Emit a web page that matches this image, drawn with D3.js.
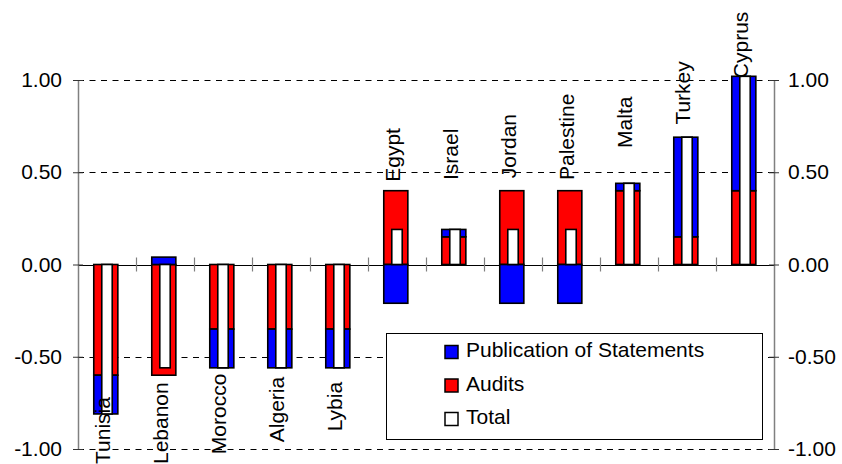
<!DOCTYPE html>
<html>
<head>
<meta charset="utf-8">
<script src="https://cdn.jsdelivr.net/npm/d3@7"></script>
<style>
  html, body { margin: 0; padding: 0; background: #fff; }
  svg { display: block; font-family: "Liberation Sans", Arial, sans-serif; }
</style>
</head>
<body>
<script>
// ---- data ----
const categories = ["Tunisia", "Lebanon", "Morocco", "Algeria", "Lybia", "Egypt",
                    "Israel", "Jordan", "Palestine", "Malta", "Turkey", "Cyprus"];
const audits      = [-0.60, -0.60, -0.35, -0.35, -0.35, 0.40, 0.15, 0.40, 0.40, 0.40, 0.15, 0.40];
const publication = [-0.21,  0.04, -0.21, -0.21, -0.21, -0.21, 0.04, -0.21, -0.21, 0.04, 0.54, 0.62];
const total       = [-0.81, -0.56, -0.56, -0.56, -0.56, 0.19, 0.19, 0.19, 0.19, 0.44, 0.69, 1.02];
const yTicks = [-1, -0.5, 0, 0.5, 1];
const seriesNames = ["Publication of Statements", "Audits", "Total"];

// ---- layout ----
const W = 842, H = 464;
const FONT = 21;
// value-axis level at which each category name is centred
const labelLevels = [-0.90, -0.86, -0.81, -0.786, -0.77, 0.594, 0.597, 0.642, 0.692, 0.771, 0.93, 1.19];

const colors = { audits: "#FF0000", publication: "#0000FF", total: "#FFFFFF" };

const svg = d3.select("body").append("svg").attr("width", W).attr("height", H);
svg.append("rect").attr("width", W).attr("height", H).attr("fill", "#fff");

const x = d3.scaleBand().domain(categories).range([78, 774]);
const y = d3.scaleLinear().domain([-1, 1]).range([449, 80]);
const bw = x.bandwidth();
const outerW = bw * 0.415;
const innerW = bw * 0.18;
const outerShift = -1.2;

// dashed gridlines
svg.append("g").selectAll("line")
  .data(yTicks.filter(d => d !== 0))
  .join("line")
  .attr("x1", x.range()[0]).attr("x2", x.range()[1])
  .attr("y1", d => Math.round(y(d)) + 0.5).attr("y2", d => Math.round(y(d)) + 0.5)
  .attr("stroke", "#000").attr("stroke-width", 1)
  .attr("stroke-dasharray", "6,5.5");

// zero line
svg.append("line")
  .attr("x1", x.range()[0]).attr("x2", x.range()[1])
  .attr("y1", Math.round(y(0)) + 0.5).attr("y2", Math.round(y(0)) + 0.5)
  .attr("stroke", "#000").attr("stroke-width", 1.2);

// category tick marks on the zero line
svg.append("g").selectAll("line")
  .data(categories.slice(1))
  .join("line")
  .attr("x1", d => Math.round(x(d)) + 0.5).attr("x2", d => Math.round(x(d)) + 0.5)
  .attr("y1", y(0) - 7).attr("y2", y(0) + 7)
  .attr("stroke", "#808080").attr("stroke-width", 1.2);

// stacked segments
const rows = categories.map((c, i) => ({ cat: c, audits: audits[i], publication: publication[i] }));
const stacked = d3.stack().keys(["audits", "publication"]).offset(d3.stackOffsetDiverging)(rows);

svg.append("g").selectAll("g")
  .data(stacked)
  .join("g")
  .attr("fill", s => colors[s.key])
  .selectAll("rect")
  .data(s => s)
  .join("rect")
  .attr("x", d => x(d.data.cat) + (bw - outerW) / 2 + outerShift)
  .attr("width", outerW)
  .attr("y", d => y(Math.max(d[0], d[1])))
  .attr("height", d => Math.abs(y(d[0]) - y(d[1])))
  .attr("stroke", "#000").attr("stroke-width", 1.6);

// total bars
svg.append("g").selectAll("rect")
  .data(categories.map((c, i) => ({ cat: c, v: total[i] })))
  .join("rect")
  .attr("x", d => x(d.cat) + (bw - innerW) / 2)
  .attr("width", innerW)
  .attr("y", d => y(Math.max(0, d.v)))
  .attr("height", d => Math.abs(y(d.v) - y(0)))
  .attr("fill", colors.total)
  .attr("stroke", "#000").attr("stroke-width", 1.6);

// value axes, left and right
const fmt = d => d.toFixed(2);
function styleAxis(g, sign) {
  g.select(".domain").attr("stroke", "#808080").attr("stroke-width", 1.5);
  g.selectAll(".tick line").attr("stroke", "#333").attr("x1", sign * 5);
  g.selectAll(".tick text").attr("fill", "#000").style("font-size", FONT + "px")
    .style("font-family", "'Liberation Sans', Arial, sans-serif");
}
svg.append("g")
  .attr("transform", `translate(${x.range()[0]},0)`)
  .call(d3.axisLeft(y).tickValues(yTicks).tickFormat(fmt).tickSizeInner(5).tickSizeOuter(0).tickPadding(11))
  .call(g => styleAxis(g, 1));
svg.append("g")
  .attr("transform", `translate(${x.range()[1]},0)`)
  .call(d3.axisRight(y).tickValues(yTicks).tickFormat(fmt).tickSizeInner(5).tickSizeOuter(0).tickPadding(9))
  .call(g => styleAxis(g, -1));

// legend
const lg = svg.append("g");
lg.append("rect")
  .attr("x", 386.5).attr("y", 333.5).attr("width", 376).attr("height", 106)
  .attr("fill", "#fff").attr("stroke", "#000").attr("stroke-width", 1);
const legendColors = [colors.publication, colors.audits, colors.total];
const item = lg.selectAll("g.item")
  .data(seriesNames)
  .join("g")
  .attr("class", "item")
  .attr("transform", (d, i) => `translate(445,${352 + i * 33.5})`);
item.append("rect")
  .attr("x", 0).attr("y", -6.5).attr("width", 13).attr("height", 13)
  .attr("fill", (d, i) => legendColors[i])
  .attr("stroke", "#000").attr("stroke-width", 1.5);
item.append("text")
  .attr("x", 21).attr("y", 5)
  .style("font-size", FONT + "px")
  .attr("fill", "#000")
  .text(d => d);

// category names
svg.append("g").selectAll("text")
  .data(categories)
  .join("text")
  .attr("transform", (d, i) => `translate(${x(d) + bw / 2},${y(labelLevels[i])}) rotate(-90)`)
  .attr("text-anchor", "middle")
  .attr("dy", 3)
  .style("font-size", FONT + "px")
  .attr("fill", "#000")
  .text(d => d);
</script>
</body>
</html>
